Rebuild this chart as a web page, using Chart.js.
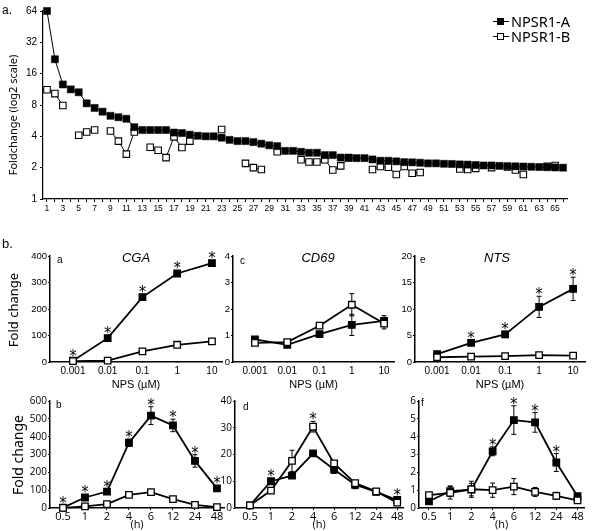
<html>

<head>
    <title>NPSR1 fold change</title>
    <meta name="viewport" content="width=device-width, initial-scale=1">
    <script src="https://cdn.jsdelivr.net/npm/chart.js"></script>
    <style>
        body {
            margin: 0;
            width: 600px;
            height: 531px;
            position: relative;
            overflow: hidden;
            background: #fff;
            font-family: "Liberation Sans", Arial, sans-serif;
            color: #000;
        }

        canvas,
        .lbl {
            position: absolute;
        }

        .lbl {
            white-space: nowrap;
            line-height: 1;
        }

        .rot {
            transform: translate(-50%, -50%) rotate(-90deg);
        }

        .gene {
            font-style: italic;
            font-size: 13px;
            transform: translate(-50%, -50%);
        }

        .sub {
            font-size: 10px;
        }

        .legend div {
            height: 15px;
            display: flex;
            align-items: center;
            font-family: "Noto Sans", sans-serif;
            font-size: 14.5px;
        }

        .mark {
            position: relative;
            width: 16px;
            height: 1px;
            background: #000;
            margin-right: 2px;
        }

        .mark span {
            position: absolute;
            left: 4px;
            top: -3px;
            width: 5px;
            height: 5px;
            border: 1px solid #000;
        }
    </style>
</head>

<body>
    <canvas id="topChart" width="600" height="225" style="left:0;top:0"></canvas>
    <canvas id="cgaDose" width="235" height="148" style="left:0;top:246"></canvas>
    <canvas id="cd69Dose" width="197" height="148" style="left:203px;top:246px"></canvas>
    <canvas id="ntsDose" width="210" height="148" style="left:385px;top:246px"></canvas>
    <canvas id="cgaTime" width="235" height="140" style="left:0;top:391px"></canvas>
    <canvas id="cd69Time" width="204" height="140" style="left:205px;top:391px"></canvas>
    <canvas id="ntsTime" width="201" height="140" style="left:389px;top:391px"></canvas>

    <div class="lbl" style="left:2px;top:4px;font-size:12px">a.</div>
    <div class="lbl" style="left:2px;top:237px;font-size:13px">b.</div>
    <div class="lbl rot" style="left:12px;top:115px;font-family:'Noto Sans';font-size:11px">Foldchange (log2 scale)</div>
    <div class="lbl rot" style="left:13px;top:310px;font-family:'Noto Sans';font-size:13px">Fold change</div>
    <div class="lbl rot" style="left:18px;top:455px;font-family:'Noto Sans';font-size:14px">Fold change</div>

    <div class="lbl legend" style="left:493px;top:14px">
        <div><span class="mark"><span style="background:#000"></span></span>NPSR1-A</div>
        <div><span class="mark"><span style="background:#fff"></span></span>NPSR1-B</div>
    </div>

    <div class="lbl gene" style="left:136px;top:257px">CGA</div>
    <div class="lbl gene" style="left:318px;top:257px">CD69</div>
    <div class="lbl gene" style="left:497px;top:257px">NTS</div>
    <div class="lbl sub" style="left:57px;top:255px">a</div>
    <div class="lbl sub" style="left:240px;top:256px">c</div>
    <div class="lbl sub" style="left:420px;top:255px">e</div>
    <div class="lbl sub" style="left:56px;top:400px">b</div>
    <div class="lbl sub" style="left:243px;top:402px">d</div>
    <div class="lbl sub" style="left:421px;top:398px">f</div>
</body>
<script>
    // panel a: genes ranked by fold change
    const geneNumbers = ['1', '2', '3', '4', '5', '6', '7', '8', '9', '10', '11', '12', '13', '14', '15', '16', '17', '18', '19', '20',
        '21', '22', '23', '24', '25', '26', '27', '28', '29', '30', '31', '32', '33', '34', '35', '36', '37', '38', '39', '40',
        '41', '42', '43', '44', '45', '46', '47', '48', '49', '50', '51', '52', '53', '54', '55', '56', '57', '58', '59', '60',
        '61', '62', '63', '64', '65', '66']
    const npsr1A = [64, 22, 12.6, 11.3, 10.6, 8.3, 7.5, 6.9, 6.3, 6.1,
        5.9, 4.9, 4.6, 4.6, 4.6, 4.6, 4.35, 4.3, 4.15, 4.05,
        4.0, 4.0, 3.88, 3.7, 3.6, 3.6, 3.52, 3.4, 3.28, 3.22,
        2.9, 2.9, 2.84, 2.78, 2.78, 2.64, 2.64, 2.5, 2.5, 2.47,
        2.47, 2.4, 2.33, 2.33, 2.3, 2.26, 2.25, 2.23, 2.2, 2.2,
        2.18, 2.17, 2.15, 2.14, 2.12, 2.1, 2.1, 2.08, 2.07, 2.06,
        2.05, 2.04, 2.03, 2.02, 2.01, 2.0]
    const npsr1B = [11.2, 10.3, 7.9, null, 4.1, 4.4, 4.6, null, 4.5, 3.6,
        2.7, 4.4, null, 3.14, 2.94, 2.5, 3.95, 3.12, 3.6, null,
        null, null, 4.66, null, null, 2.2, 2.0, 1.92, null, 2.84,
        null, null, 2.38, 2.27, 2.27, 2.38, 1.9, 2.08, 2.48, null,
        null, 1.92, 2.05, 2.02, 1.72, 2.05, 1.77, 1.8, null, null,
        null, null, 1.94, 1.92, 1.97, null, 2.0, null, 2.03, 1.9,
        1.72, null, null, 2.06, 2.1, null]
    const log2Ticks = [1, 2, 4, 8, 16, 32, 64]

    // panel b
    const doseLabels = ['0.001', '0.01', '0.1', '1', '10']
    const timeLabels = ['0.5', '1', '2', '4', '6', '12', '24', '48']

    const cgaDoseA = [5, 90, 245, 334, 373]
    const cgaDoseAErr = [3, 8, 8, 6, 6]
    const cgaDoseB = [3, 5, 40, 65, 78]
    const cgaDoseBErr = [1, 1, 3, 3, 3]
    const cgaDoseStars = [1, 1, 1, 1, 1]

    const cd69DoseA = [0.85, 0.65, 1.05, 1.4, 1.55]
    const cd69DoseAErr = [0.08, 0.05, 0.1, 0.4, 0.2]
    const cd69DoseB = [0.72, 0.75, 1.37, 2.16, 1.45]
    const cd69DoseBErr = [0.05, 0.05, 0.06, 0.42, 0.2]
    const cd69DoseStars = [0, 0, 0, 0, 0]

    const ntsDoseA = [1.5, 3.6, 5.2, 10.4, 13.8]
    const ntsDoseAErr = [0.2, 0.4, 0.6, 2.0, 2.2]
    const ntsDoseB = [0.9, 1.0, 1.1, 1.3, 1.2]
    const ntsDoseBErr = [0.1, 0.1, 0.1, 0.1, 0.1]
    const ntsDoseStars = [0, 1, 1, 1, 1]

    const cgaTimeA = [2, 59, 92, 366, 518, 463, 264, 110]
    const cgaTimeAErr = [2, 8, 8, 20, 50, 35, 35, 8]
    const cgaTimeB = [1, 9, 22, 74, 89, 50, 18, 5]
    const cgaTimeBErr = [1, 2, 3, 5, 5, 4, 3, 1]
    const cgaTimeStars = [1, 1, 1, 1, 1, 1, 1, 1]

    const cd69TimeA = [1, 10, 12.1, 20.4, 14.4, 8.7, 6, 3]
    const cd69TimeAErr = [0.2, 0.6, 0.6, 0.5, 1.5, 1.5, 0.4, 0.3]
    const cd69TimeB = [1, 6.5, 17.6, 30.4, 16.7, 9.3, 6.2, 2]
    const cd69TimeBErr = [0.2, 0.4, 4, 2, 0.8, 0.6, 0.4, 0.3]
    const cd69TimeStars = [0, 1, 0, 1, 0, 0, 0, 1]

    const ntsTimeA = [0.38, 0.94, 1.03, 3.18, 4.93, 4.8, 2.55, 0.66]
    const ntsTimeAErr = [0.15, 0.3, 0.35, 0.25, 0.8, 0.55, 0.5, 0.15]
    const ntsTimeB = [0.72, 0.85, 1.05, 1.0, 1.2, 0.9, 0.68, 0.43]
    const ntsTimeBErr = [0.15, 0.35, 0.45, 0.4, 0.45, 0.25, 0.2, 0.1]
    const ntsTimeStars = [0, 0, 0, 1, 1, 1, 1, 0]

    Chart.defaults.font.family = '"Liberation Sans", Arial, sans-serif'
    Chart.defaults.color = '#000'

    const noGrid = { display: true, drawOnChartArea: false, drawTicks: true, tickLength: 3, color: '#000', lineWidth: 1 }

    new Chart(document.getElementById('topChart'), {
        type: 'line',
        data: {
            labels: geneNumbers,
            datasets: [{
                label: 'NPSR1-A',
                data: npsr1A,
                borderColor: '#000',
                borderWidth: 1,
                pointStyle: 'rect',
                pointRadius: 5,
                pointBackgroundColor: '#000',
                pointBorderColor: '#000',
                pointBorderWidth: 0.5,
                clip: false
            }, {
                label: 'NPSR1-B',
                data: npsr1B,
                borderColor: '#000',
                borderWidth: 1,
                pointStyle: 'rect',
                pointRadius: 4.6,
                pointBackgroundColor: '#fff',
                pointBorderColor: '#000',
                pointBorderWidth: 1.1,
                spanGaps: false,
                clip: false
            }]
        },
        options: {
            animation: false,
            responsive: false,
            layout: { padding: { top: 11, right: 33, left: 0, bottom: 0 } },
            plugins: { legend: { display: false }, tooltip: { enabled: false } },
            scales: {
                x: {
                    type: 'category',
                    offset: true,
                    grid: { ...noGrid, tickLength: 3, offset: false },
                    border: { color: '#000', width: 1.2 },
                    ticks: {
                        autoSkip: false,
                        maxRotation: 0,
                        padding: 2,
                        font: { size: 8.5 },
                        callback: function (v, i) { return i % 2 === 0 ? geneNumbers[i] : '' }
                    },
                    afterFit: s => { s.height = 26 }
                },
                y: {
                    type: 'logarithmic',
                    min: 1,
                    max: 64,
                    grid: noGrid,
                    border: { color: '#000', width: 1.2 },
                    ticks: { font: { size: 10 }, padding: 3, callback: v => String(v) },
                    afterBuildTicks: s => { s.ticks = log2Ticks.map(v => ({ value: v })) },
                    afterFit: s => { s.width = 43 }
                }
            }
        }
    })

    // error bars drawn behind the points, stars above everything
    const errorBars = {
        id: 'errorBars',
        beforeDatasetsDraw(chart) {
            const ctx = chart.ctx
            const xs = chart.scales.x
            const ys = chart.scales.y
            ctx.save()
            ctx.strokeStyle = '#000'
            ctx.lineWidth = 1
            chart.data.datasets.forEach(ds => {
                ds.data.forEach((p, i) => {
                    const e = ds.errors[i]
                    if (!e) return
                    const px = xs.getPixelForValue(p.x)
                    const top = ys.getPixelForValue(p.y + e)
                    const bot = ys.getPixelForValue(Math.max(p.y - e, 0))
                    ctx.beginPath()
                    ctx.moveTo(px, top)
                    ctx.lineTo(px, bot)
                    ctx.moveTo(px - 2.5, top)
                    ctx.lineTo(px + 2.5, top)
                    ctx.moveTo(px - 2.5, bot)
                    ctx.lineTo(px + 2.5, bot)
                    ctx.stroke()
                })
            })
            ctx.restore()
        },
        afterDatasetsDraw(chart, args, opts) {
            const stars = opts.stars || []
            const ctx = chart.ctx
            const xs = chart.scales.x
            const ys = chart.scales.y
            ctx.save()
            ctx.fillStyle = '#000'
            ctx.font = '15px "DejaVu Sans", sans-serif'
            ctx.textAlign = 'center'
            ctx.textBaseline = 'alphabetic'
            stars.forEach((s, i) => {
                if (!s) return
                let high = Infinity
                chart.data.datasets.forEach(ds => {
                    const p = ds.data[i]
                    high = Math.min(high, ys.getPixelForValue(p.y + (ds.errors[i] || 0)) - 1, ys.getPixelForValue(p.y) - 4)
                })
                ctx.fillText('*', xs.getPixelForValue(i), high + 4)
            })
            ctx.restore()
        }
    }

    const panel = (id, labels, a, aErr, b, bErr, stars, o) => {
        const pts = arr => arr.map((v, i) => ({ x: i, y: v }))
        const series = (data, errors, fill) => ({
            data: pts(data),
            errors: errors,
            borderColor: '#000',
            borderWidth: 1.8,
            pointStyle: 'rect',
            pointRadius: 4.6,
            pointBackgroundColor: fill,
            pointBorderColor: '#000',
            pointBorderWidth: 1.3,
            clip: false
        })
        return new Chart(document.getElementById(id), {
            type: 'line',
            data: { datasets: [series(b, bErr, '#fff'), series(a, aErr, '#000')] },
            plugins: [errorBars],
            options: {
                animation: false,
                responsive: false,
                layout: { padding: { top: 10, right: o.right, left: 0, bottom: 0 } },
                plugins: { legend: { display: false }, tooltip: { enabled: false }, errorBars: { stars: stars } },
                scales: {
                    x: {
                        type: 'linear',
                        min: o.xmin,
                        max: o.xmax,
                        grid: { ...noGrid, tickLength: o.xTick },
                        border: { color: '#000', width: 1.5 },
                        ticks: {
                            padding: o.xPad,
                            maxRotation: 0,
                            font: o.xFont,
                            callback: v => labels[v]
                        },
                        title: { display: true, text: o.xTitle, padding: { top: 0, bottom: o.titlePad }, font: o.titleFont },
                        afterBuildTicks: s => { s.ticks = labels.map((_, i) => ({ value: i })) },
                        afterFit: s => { s.height = o.xHeight }
                    },
                    y: {
                        min: 0,
                        max: o.ymax,
                        grid: { ...noGrid, tickLength: 2 },
                        border: { color: '#000', width: 1.5 },
                        ticks: { stepSize: o.step, padding: 1, font: o.yFont },
                        afterFit: s => { s.width = o.yWidth }
                    }
                }
            }
        })
    }

    const doseOpts = {
        xTick: 0, xPad: 3, xHeight: 32, xTitle: 'NPS (\u00b5M)', titlePad: 2,
        xFont: { size: 10 }, yFont: { size: 9.5 }, titleFont: { size: 11 }
    }
    const timeOpts = {
        xTick: 2, xPad: 0, xHeight: 23, xTitle: '(h)', titlePad: 0,
        xFont: { size: 11, family: '"Open Sans", sans-serif' }, yFont: { size: 10, family: '"Open Sans", sans-serif' },
        titleFont: { size: 11, family: '"Open Sans", sans-serif' }
    }

    panel('cgaDose', doseLabels, cgaDoseA, cgaDoseAErr, cgaDoseB, cgaDoseBErr, cgaDoseStars,
        { ...doseOpts, ymax: 400, step: 100, yWidth: 50, right: 13, xmin: -0.66, xmax: 4.29 })
    panel('cd69Dose', doseLabels, cd69DoseA, cd69DoseAErr, cd69DoseB, cd69DoseBErr, cd69DoseStars,
        { ...doseOpts, ymax: 4, step: 1, yWidth: 30, right: 5, xmin: -0.68, xmax: 4.31 })
    panel('ntsDose', doseLabels, ntsDoseA, ntsDoseAErr, ntsDoseB, ntsDoseBErr, ntsDoseStars,
        { ...doseOpts, ymax: 20, step: 5, yWidth: 30, right: 10, xmin: -0.65, xmax: 4.35 })
    panel('cgaTime', timeLabels, cgaTimeA, cgaTimeAErr, cgaTimeB, cgaTimeBErr, cgaTimeStars,
        { ...timeOpts, ymax: 600, step: 100, yWidth: 50, right: 11, xmin: -0.59, xmax: 7.32 })
    panel('cd69Time', timeLabels, cd69TimeA, cd69TimeAErr, cd69TimeB, cd69TimeBErr, cd69TimeStars,
        { ...timeOpts, ymax: 40, step: 10, yWidth: 30, right: 5, xmin: -0.71, xmax: 7.28 })
    panel('ntsTime', timeLabels, ntsTimeA, ntsTimeAErr, ntsTimeB, ntsTimeBErr, ntsTimeStars,
        { ...timeOpts, ymax: 6, step: 1, yWidth: 30, right: 5, xmin: -0.47, xmax: 7.31 })
</script>

</html>
